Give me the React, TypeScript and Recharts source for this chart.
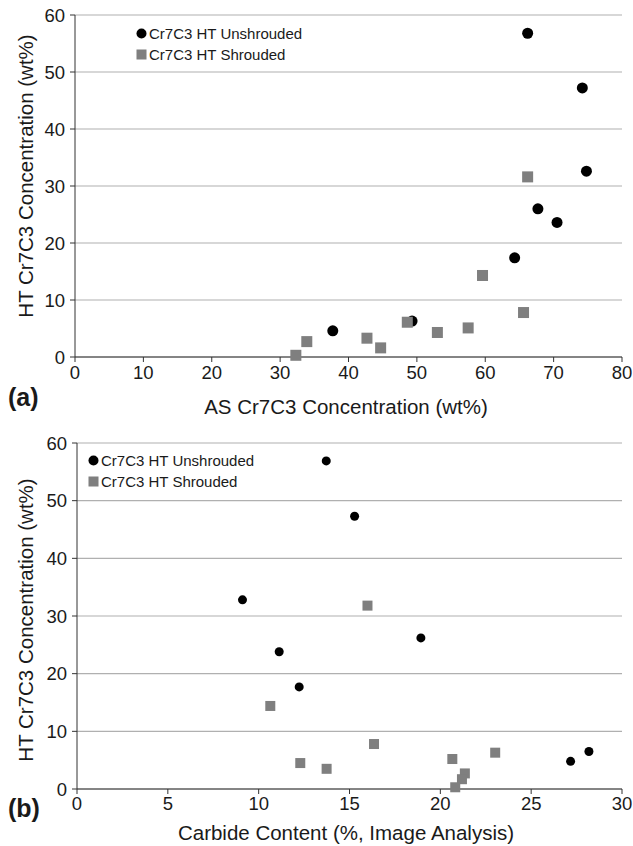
import React from "react";
import {
  ScatterChart,
  Scatter,
  XAxis,
  YAxis,
  CartesianGrid,
  Label,
} from "recharts";

// (a) as-sprayed vs heat-treated Cr7C3 concentration
const asUnshroudedX = [66.2, 74.2, 74.8, 67.7, 70.5, 64.3, 49.3, 37.7];
const asUnshroudedY = [56.8, 47.2, 32.6, 26.0, 23.6, 17.4, 6.3, 4.6];
const asShroudedX = [66.2, 59.6, 65.6, 48.6, 57.5, 53.0, 42.7, 44.7, 33.9, 32.3];
const asShroudedY = [31.6, 14.3, 7.8, 6.1, 5.1, 4.3, 3.3, 1.6, 2.7, 0.3];

// (b) carbide content vs heat-treated Cr7C3 concentration
const carbUnshroudedX = [9.11, 11.13, 12.23, 13.72, 15.28, 18.93, 27.17, 28.18];
const carbUnshroudedY = [32.8, 23.8, 17.7, 56.9, 47.3, 26.2, 4.8, 6.5];
const carbShroudedX = [10.64, 12.29, 15.99, 16.35, 13.74, 20.66, 23.02, 21.35, 21.19, 20.82];
const carbShroudedY = [14.4, 4.5, 31.8, 7.8, 3.5, 5.2, 6.3, 2.7, 1.7, 0.3];

const yTicks = [0, 10, 20, 30, 40, 50, 60];
const asTicks = [0, 10, 20, 30, 40, 50, 60, 70, 80];
const carbTicks = [0, 5, 10, 15, 20, 25, 30];

const UNSHROUDED = "Cr7C3 HT Unshrouded";
const SHROUDED = "Cr7C3 HT Shrouded";
const Y_TITLE = "HT Cr7C3 Concentration (wt%)";

const FONT = "'Liberation Sans', Arial, sans-serif";
const GREY = "#7f7f7f";
const INK = "#1a1a1a";

const zip = (xs: number[], ys: number[]) => xs.map((x, i) => ({ x, y: ys[i] }));

const dot = (r: number) => (p: any) => <circle cx={p.cx} cy={p.cy} r={r} fill="#000" />;
const square = (s: number) => (p: any) => (
  <rect x={p.cx - s / 2} y={p.cy - s / 2} width={s} height={s} fill={GREY} />
);

// axis titles drawn as plain svg text at a set spot
const titleText = (text: string, x: number, y: number, rotate = false) => () => (
  <text
    x={x}
    y={y}
    transform={rotate ? `rotate(-90 ${x} ${y})` : undefined}
    textAnchor="middle"
    dominantBaseline="central"
    fill={INK}
    fontSize={20.5}
    fontFamily={FONT}
  >
    {text}
  </text>
);

function LegendBox({ left, top }: { left: number; top: number }) {
  const row = { display: "flex", alignItems: "center", height: 21, fontSize: 15, color: INK, whiteSpace: "nowrap" as const };
  return (
    <div style={{ position: "absolute", left, top, fontFamily: FONT }}>
      <div style={row}>
        <svg width={11} height={11} style={{ marginRight: 2 }}>
          <circle cx={5.5} cy={5.5} r={5} fill="#000" />
        </svg>
        {UNSHROUDED}
      </div>
      <div style={row}>
        <svg width={11} height={11} style={{ marginRight: 2 }}>
          <rect x={0.5} y={0.5} width={10} height={10} fill={GREY} />
        </svg>
        {SHROUDED}
      </div>
    </div>
  );
}

const tickStyle = { fill: INK, fontSize: 18.5, fontFamily: FONT };

export default function App() {
  return (
    <div
      style={{
        position: "absolute",
        left: 0,
        top: 0,
        width: 633,
        height: 846,
        background: "#fff",
        fontFamily: FONT,
        overflow: "hidden",
      }}
    >
      <div style={{ position: "absolute", left: 0, top: 0 }}>
        <ScatterChart width={633} height={420} margin={{ top: 15, right: 11, bottom: 0, left: 0 }}>
          <CartesianGrid vertical={false} stroke="#b0b0b0" strokeWidth={1.2} />
          <XAxis
            type="number"
            dataKey="x"
            domain={[0, 80]}
            ticks={asTicks}
            height={63}
            tick={tickStyle}
            tickSize={5}
            tickMargin={4}
            stroke="#333"
            interval={0}
          >
            <Label content={titleText("AS Cr7C3 Concentration (wt%)", 346, 406)} />
          </XAxis>
          <YAxis
            type="number"
            dataKey="y"
            domain={[0, 60]}
            ticks={yTicks}
            width={75}
            tick={tickStyle}
            tickSize={5}
            tickMargin={5}
            stroke="#333"
            interval={0}
          >
            <Label content={titleText(Y_TITLE, 25, 176, true)} />
          </YAxis>
          <Scatter name={UNSHROUDED} data={zip(asUnshroudedX, asUnshroudedY)} shape={dot(5.5)} isAnimationActive={false} />
          <Scatter name={SHROUDED} data={zip(asShroudedX, asShroudedY)} shape={square(11)} isAnimationActive={false} />
        </ScatterChart>
        <LegendBox left={136} top={23} />
        <div style={{ position: "absolute", left: 8, top: 383, fontSize: 25, fontWeight: "bold", color: INK }}>(a)</div>
      </div>

      <div style={{ position: "absolute", left: 0, top: 420 }}>
        <ScatterChart width={633} height={426} margin={{ top: 23, right: 11, bottom: 0, left: 0 }}>
          <CartesianGrid vertical={false} stroke="#b0b0b0" strokeWidth={1.2} />
          <XAxis
            type="number"
            dataKey="x"
            domain={[0, 30]}
            ticks={carbTicks}
            height={57}
            tick={tickStyle}
            tickSize={5}
            tickMargin={3}
            stroke="#333"
            interval={0}
          >
            <Label content={titleText("Carbide Content  (%, Image Analysis)", 346, 412)} />
          </XAxis>
          <YAxis
            type="number"
            dataKey="y"
            domain={[0, 60]}
            ticks={yTicks}
            width={77}
            tick={tickStyle}
            tickSize={5}
            tickMargin={5}
            stroke="#333"
            interval={0}
          >
            <Label content={titleText(Y_TITLE, 25, 200, true)} />
          </YAxis>
          <Scatter name={UNSHROUDED} data={zip(carbUnshroudedX, carbUnshroudedY)} shape={dot(4.5)} isAnimationActive={false} />
          <Scatter name={SHROUDED} data={zip(carbShroudedX, carbShroudedY)} shape={square(10)} isAnimationActive={false} />
        </ScatterChart>
        <LegendBox left={88} top={30} />
        <div style={{ position: "absolute", left: 8, top: 374, fontSize: 25, fontWeight: "bold", color: INK }}>(b)</div>
      </div>
    </div>
  );
}
